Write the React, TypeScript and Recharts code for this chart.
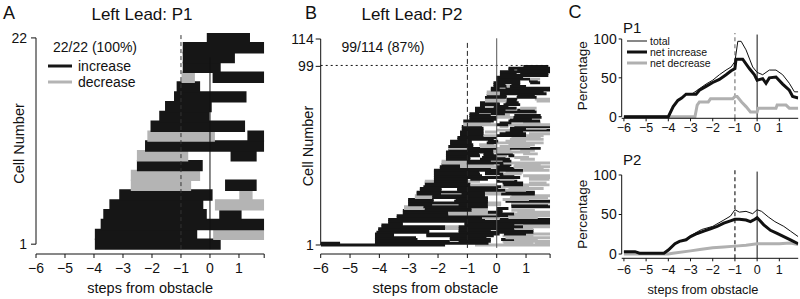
import React from "react";
import {
  ComposedChart,
  LineChart,
  Line,
  XAxis,
  YAxis,
  ReferenceArea,
  ReferenceLine,
} from "recharts";

const FONT = "'Liberation Sans', Arial, Helvetica, sans-serif";
const INK = "#111111";
const BAR_INK = "#161616";
const BAR_GREY = "#b4b4b4";

type Seg = [number, number, "b" | "g"];
type Pt = [number, number];

const STEP_TICKS = [-6, -5, -4, -3, -2, -1, 0, 1];

// Panel A: firing segments per cell (cell 1 first), b = increase, g = decrease
const cellsP1: Seg[][] = [
  [[-3.97, 0.37, "b"]],
  [[-3.97, -0.44, "b"], [0.11, 1.9, "g"]],
  [[-3.77, 1.9, "b"]],
  [[-3.68, -0.11, "b"], [0.32, 1.09, "b"]],
  [[-3.47, -0.23, "b"], [0.17, 1.9, "g"]],
  [[-3.13, 0.09, "b"], [1.01, 1.47, "g"]],
  [[-2.73, -0.65, "g"], [0.52, 1.61, "b"]],
  [[-2.73, -0.34, "g"]],
  [[-2.52, -0.25, "b"]],
  [[-2.52, -0.75, "g"], [0.71, 1.61, "b"]],
  [[-2.24, 1.9, "b"]],
  [[-2.16, 0.17, "g"], [1.29, 1.9, "b"]],
  [[-2.05, 1.21, "b"]],
  [[-1.75, -0.02, "b"]],
  [[-1.55, 0.06, "b"]],
  [[-1.24, 1.26, "b"]],
  [[-1.15, -0.34, "b"]],
  [[-0.98, -0.52, "g"], [0.09, 1.9, "b"]],
  [[-0.94, 0.37, "b"]],
  [[-0.94, 0.86, "b"]],
  [[-0.94, 1.9, "b"]],
  [[-0.11, 1.38, "b"]],
];

// Panel B: 99 responsive cells of 114
const cellsP2: Seg[][] = [
  [[-6, -1.76, "b"], [-0.74, 1.9, "g"]],
  [[-6, -5.34, "b"], [-4.15, -0.28, "b"], [0.23, 1.25, "g"], [1.3, 1.9, "g"]],
  [[-4.15, -1.6, "b"], [-1.3, -0.2, "b"], [0.2, 1.9, "g"]],
  [[-4.15, -2.7, "b"], [-1.6, -0.2, "b"], [0.15, 0.6, "b"], [0.6, 1.4, "g"]],
  [[-4.15, -2.75, "b"], [-1.6, -0.35, "b"], [0.3, 1.9, "g"]],
  [[-4.15, -3.5, "b"], [-2.4, -0.1, "b"], [0.2, 1.25, "g"]],
  [[-4.15, -3.5, "b"], [-2.4, 0.1, "b"], [0.25, 1.0, "b"], [1.0, 1.9, "g"]],
  [[-4.1, -2.3, "b"], [-1.3, 1.25, "b"]],
  [[-4.04, -2.3, "b"], [-1.3, -0.2, "b"], [0.0, 1.25, "b"]],
  [[-4.04, -1.75, "b"], [-1.75, -1.3, "g"], [-1.3, 0.6, "b"], [0.6, 1.25, "g"]],
  [[-3.93, -1.75, "b"], [-1.75, -1.3, "g"], [-1.3, 0.9, "b"], [0.9, 1.9, "g"]],
  [[-3.93, -3.2, "b"], [-1.1, 0.6, "b"], [0.9, 1.9, "g"]],
  [[-3.7, -3.2, "b"], [-1.1, 1.9, "b"]],
  [[-3.7, 1.9, "b"]],
  [[-3.7, -0.4, "b"], [0.1, 1.9, "b"]],
  [[-3.41, -0.5, "b"], [-0.5, 0.1, "g"], [0.4, 1.4, "g"]],
  [[-3.41, 0.4, "b"], [0.4, 1.9, "g"]],
  [[-3.2, -1.65, "b"], [-1.65, 0, "g"], [0, 0.6, "b"], [0.6, 1.9, "g"]],
  [[-3.2, -1.65, "b"], [-1.65, -0.3, "g"], [-0.3, 0.2, "b"], [0.7, 1.9, "g"]],
  [[-3.2, -0.85, "b"], [-0.85, -0.3, "g"], [0.0, 0.2, "b"], [0.5, 1.3, "g"]],
  [[-3.16, -2.45, "g"], [-2.45, -0.85, "b"], [-0.85, -0.3, "g"], [0.0, 0.4, "b"]],
  [[-3.16, -2.5, "g"], [-2.5, -0.3, "b"], [0.5, 1.9, "b"]],
  [[-3.02, -2.2, "b"], [-1.3, -0.3, "b"], [-0.3, 0.15, "g"], [0.5, 1.75, "b"]],
  [[-3.02, -0.3, "b"], [-0.3, 0.15, "g"], [0.5, 1.9, "g"]],
  [[-3.02, -2.15, "b"], [-1.45, -0.3, "b"], [0.3, 1.9, "b"]],
  [[-3.02, -2.15, "b"], [-1.4, -0.3, "b"], [0.2, 1.1, "g"]],
  [[-2.79, -2.2, "g"], [-2.2, -0.3, "b"], [0.45, 1.75, "g"]],
  [[-2.79, -2.2, "g"], [-2.2, -0.4, "b"], [0.5, 1.9, "g"]],
  [[-2.73, -1.9, "b"], [-1.2, -0.4, "b"], [-0.4, 0.15, "g"], [0.15, 1.3, "b"]],
  [[-2.73, -0.4, "b"], [-0.4, 0.15, "g"], [0.3, 1.3, "b"]],
  [[-2.62, -1.88, "b"], [-1.35, 0.3, "b"], [0.3, 1.0, "g"]],
  [[-2.62, -1.88, "b"], [-1.35, 0.05, "b"], [0.4, 1.6, "g"]],
  [[-2.5, 0.15, "b"], [0.15, 1.1, "g"]],
  [[-2.45, -0.9, "b"], [-0.9, 0, "g"], [0.23, 0.9, "b"], [0.9, 1.8, "g"]],
  [[-2.45, -0.9, "b"], [0.2, 0.9, "b"], [1.1, 1.7, "g"]],
  [[-2.45, -2.14, "g"], [-2.14, -1.0, "b"], [-1.0, -0.57, "g"], [0, 0.7, "b"]],
  [[-2.14, -1.0, "b"], [-0.9, -0.3, "b"], [0.1, 0.6, "g"], [1.1, 1.8, "g"]],
  [[-2.14, 0.8, "b"], [1.1, 1.9, "g"]],
  [[-2.14, -0.5, "b"], [0.1, 0.6, "b"], [0.9, 1.9, "g"]],
  [[-2.14, -0.57, "b"], [-0.4, 0.23, "b"], [0.23, 0.85, "g"]],
  [[-2.14, -0.6, "b"], [-0.4, 0.1, "b"], [0.3, 0.9, "g"]],
  [[-2.14, 0.9, "b"], [0.9, 1.8, "g"]],
  [[-1.94, -0.2, "b"], [0.0, 0.6, "b"], [0.9, 1.6, "g"]],
  [[-1.94, -1.25, "b"], [-1.25, 0, "g"], [0, 0.45, "b"], [0.57, 1.9, "g"]],
  [[-1.88, -1.25, "b"], [-1.25, -0.1, "g"], [0.1, 0.5, "b"], [0.6, 1.5, "g"]],
  [[-1.88, -1.02, "g"], [-1.02, 0.23, "b"], [0.23, 1.9, "g"]],
  [[-1.88, -1.02, "g"], [-1.02, -0.2, "b"], [0.2, 0.5, "b"]],
  [[-1.73, -0.9, "b"], [-0.57, 0.45, "b"], [0.8, 1.3, "g"]],
  [[-1.73, -0.9, "b"], [-0.5, 0.3, "b"], [0.6, 1.1, "g"]],
  [[-1.73, -0.57, "b"], [-0.45, 0, "b"], [0, 0.35, "g"], [0.4, 0.6, "b"]],
  [[-1.73, -0.6, "b"], [-0.45, -0.1, "b"], [0, 0.55, "b"], [0.9, 1.4, "g"]],
  [[-1.73, -0.11, "b"], [-0.11, 1.14, "g"]],
  [[-1.65, -0.11, "b"], [-0.11, 0.5, "g"], [0.8, 1.3, "g"]],
  [[-1.65, -1.0, "g"], [-1.0, 0, "b"], [0, 0.45, "g"], [0.45, 1.5, "b"]],
  [[-1.65, -0.8, "b"], [-0.57, 0, "g"], [0.1, 1.14, "g"]],
  [[-1.59, -0.8, "b"], [-0.6, -0.1, "g"], [0.4, 1.3, "g"]],
  [[-1.59, -0.85, "b"], [-0.34, 0, "b"], [0, 1.6, "g"]],
  [[-1.59, -0.85, "b"], [-0.3, 0.05, "b"], [0.3, 1.0, "g"]],
  [[-1.34, -0.1, "b"], [0.45, 1.6, "g"]],
  [[-1.34, 0, "b"], [0.5, 1.5, "g"]],
  [[-1.25, -0.45, "b"], [-0.45, 0, "g"], [0, 1.0, "b"], [1.0, 1.6, "g"]],
  [[-1.25, -0.45, "b"], [0.1, 1.0, "b"], [1.1, 1.9, "g"]],
  [[-1.25, -0.45, "b"], [-0.4, 0, "g"], [0.3, 0.9, "b"]],
  [[-1.19, -0.45, "b"], [0, 0.45, "g"], [0.45, 1.9, "b"]],
  [[-1.19, -0.45, "b"], [0.45, 1.0, "b"], [1.0, 1.7, "g"]],
  [[-1.19, -0.5, "b"], [0.1, 0.4, "g"], [0.6, 1.9, "b"]],
  [[-1.14, 0, "g"], [0, 0.4, "b"], [0.4, 1.9, "g"]],
  [[-1.14, -0.2, "g"], [0.1, 0.5, "b"], [0.9, 1.5, "g"]],
  [[-1.14, -0.1, "b"], [0.4, 1.48, "b"]],
  [[-0.93, 0, "b"], [0.45, 1.2, "b"]],
  [[-0.93, 0, "b"], [0, 0.57, "g"], [0.57, 1.53, "b"]],
  [[-0.93, -0.2, "b"], [0, 0.45, "g"], [0.6, 1.5, "b"]],
  [[-0.93, -0.6, "b"], [-0.2, 0.28, "b"]],
  [[-0.74, 1.36, "b"]],
  [[-0.74, 0.3, "b"], [0.7, 1.3, "b"]],
  [[-0.74, 0.68, "b"], [0.8, 1.36, "g"]],
  [[-0.57, -0.4, "b"], [-0.4, -0.1, "g"], [-0.1, 0.4, "b"]],
  [[-0.57, 0.11, "b"], [0.23, 0.8, "b"]],
  [[-0.57, 0.1, "b"], [0.3, 0.75, "b"]],
  [[-0.4, 0.34, "g"], [0.34, 0.68, "b"], [1.36, 1.9, "g"]],
  [[-0.4, 0.3, "g"], [0.34, 0.7, "b"], [1.3, 1.9, "g"]],
  [[-0.4, 0.34, "b"], [0.68, 1.36, "b"]],
  [[-0.34, 0.34, "b"], [0.7, 1.3, "b"]],
  [[-0.34, 0.11, "g"], [0.11, 1.7, "b"]],
  [[-0.34, 0.11, "g"], [0.11, 1.6, "b"]],
  [[-0.2, 1.9, "b"]],
  [[-0.2, 0.1, "b"], [0.3, 1.9, "b"]],
  [[-0.11, 0.34, "b"], [0.34, 0.45, "g"], [0.45, 1.0, "b"]],
  [[-0.11, 0.3, "b"], [0.5, 0.8, "b"]],
  [[-0.11, 0.8, "b"], [1.14, 1.48, "b"]],
  [[-0.02, 0.8, "b"], [1.1, 1.4, "b"]],
  [[-0.02, 1.14, "b"], [1.14, 1.48, "g"]],
  [[-0.02, 0.9, "b"]],
  [[0.11, 1.76, "b"]],
  [[0.11, 0.68, "b"], [0.8, 1.76, "b"]],
  [[0.11, 1.9, "b"]],
  [[0.4, 0.6, "b"], [0.7, 1.9, "b"]],
  [[0.4, 1.9, "b"]],
  [[0.91, 1.76, "b"]],
];

// Panel C: percentage of cells, [step, %]
const p1Total: Pt[] = [
  [-6, 0], [-4, 0], [-3.78, 13], [-3.57, 21], [-3.4, 24], [-3.2, 29], [-2.9, 30],
  [-2.75, 33], [-2.6, 36], [-2.3, 42], [-2.0, 47], [-1.7, 54], [-1.4, 60],
  [-1.17, 64], [-1.0, 71], [-0.87, 97], [-0.72, 97], [-0.5, 86], [-0.2, 64],
  [0, 57], [0.25, 54], [0.55, 60], [0.85, 60], [1.15, 54], [1.45, 43],
  [1.68, 32], [1.85, 32],
];
const p1Increase: Pt[] = [
  [-6, 0], [-4, 0], [-3.78, 13], [-3.57, 21], [-3.4, 24], [-3.2, 29], [-2.75, 29],
  [-2.6, 34], [-2.3, 39], [-2.0, 44], [-1.7, 48], [-1.4, 54], [-1.17, 59],
  [-1.0, 62], [-0.95, 74], [-0.65, 74], [-0.35, 62], [-0.12, 54], [0, 47],
  [0.25, 49], [0.4, 43], [0.55, 50], [0.85, 51], [1.15, 42], [1.45, 34],
  [1.6, 26], [1.85, 24],
];
const p1Decrease: Pt[] = [
  [-6, 0], [-2.8, 0], [-2.7, 15], [-2.6, 19], [-2.2, 19], [-2.1, 23], [-1.1, 23],
  [-1.0, 26], [-0.9, 26], [-0.7, 19], [-0.5, 13], [-0.3, 6], [0, 6], [0.05, 11],
  [0.85, 11], [0.9, 15], [1.3, 15], [1.45, 11], [1.85, 11],
];
const p2Total: Pt[] = [
  [-6, 3], [-5.5, 3], [-5.3, 1], [-4.2, 1], [-4, 5], [-3.7, 13], [-3.5, 16],
  [-3.2, 19], [-3, 23], [-2.7, 28], [-2.5, 31], [-2, 35], [-1.5, 43],
  [-1.2, 48], [-1, 56], [-0.8, 53], [-0.5, 54], [-0.2, 51], [0, 56],
  [0.2, 54], [0.5, 47], [0.8, 41], [1.2, 35], [1.5, 29], [1.85, 22],
];
const p2Increase: Pt[] = [
  [-6, 3], [-5.5, 3], [-5.3, 1], [-4.2, 1], [-4, 5], [-3.7, 13], [-3.5, 16],
  [-3.2, 18], [-3, 22], [-2.7, 26], [-2.4, 29], [-2.1, 32], [-1.8, 35],
  [-1.5, 39], [-1.2, 42], [-1, 44], [-0.8, 44], [-0.5, 43], [-0.3, 41],
  [-0.1, 44], [0, 46], [0.1, 43], [0.3, 37], [0.6, 30], [0.9, 26],
  [1.2, 22], [1.5, 18], [1.85, 13],
];
const p2Decrease: Pt[] = [
  [-6, 0], [-4, 0], [-3.8, 1], [-3, 4], [-2.5, 6], [-2, 8], [-1.5, 9],
  [-1, 10], [-0.5, 11], [0, 13], [0.5, 13], [1, 13], [1.5, 14], [1.85, 12],
];

const fmtStep = (v: number) =>
  Number.isInteger(v) ? (v < 0 ? "\u2212" + Math.abs(v) : String(v)) : "";

const toPts = (arr: Pt[]) => arr.map(([x, y]) => ({ x, y }));

function Raster({
  cells,
  xMax,
  yDomain,
  yTicks,
  width,
  margin,
  yAxisWidth,
  yTickMargin,
  rowPad,
  children,
}: {
  cells: Seg[][];
  xMax: number;
  yDomain: [number, number];
  yTicks: number[];
  width: number;
  margin: { top: number; right: number; bottom: number; left: number };
  yAxisWidth: number;
  yTickMargin: number;
  rowPad: number;
  children?: React.ReactNode;
}) {
  const tickStyle = { fill: INK, fontSize: 14, fontFamily: FONT };
  return (
    <ComposedChart width={width} height={299} margin={margin}>
      <XAxis
        type="number"
        dataKey="x"
        domain={[-6, xMax]}
        allowDataOverflow
        ticks={[...STEP_TICKS, xMax]}
        interval={0}
        tickFormatter={fmtStep}
        height={45}
        tickSize={4}
        tickMargin={5}
        axisLine={{ stroke: INK }}
        tickLine={{ stroke: INK }}
        tick={tickStyle}
        label={{
          value: "steps from obstacle",
          position: "insideBottom",
          offset: 6,
          fill: INK,
          fontSize: 14.5,
          fontFamily: FONT,
        }}
      />
      <YAxis
        type="number"
        domain={yDomain}
        allowDataOverflow
        ticks={yTicks}
        interval={0}
        width={yAxisWidth}
        axisLine={false}
        tickSize={5}
        tickMargin={yTickMargin}
        tickLine={{ stroke: INK }}
        tick={tickStyle}
        label={{
          value: "Cell Number",
          angle: -90,
          position: "center",
          fill: INK,
          fontSize: 14.5,
          fontFamily: FONT,
        }}
      />
      {cells.flatMap((segs, i) =>
        segs.map(([a, b, k], j) => (
          <ReferenceArea
            key={`${i}-${j}`}
            x1={a}
            x2={Math.min(b, xMax)}
            y1={i + 0.5 - rowPad}
            y2={i + 1.5 + rowPad}
            fill={k === "b" ? BAR_INK : BAR_GREY}
            fillOpacity={1}
            stroke="none"
            ifOverflow="hidden"
          />
        ))
      )}
      <ReferenceLine
        segment={[
          { x: -6, y: yTicks[0] },
          { x: -6, y: yTicks[yTicks.length - 1] },
        ]}
        stroke={INK}
        ifOverflow="visible"
      />
      {children}
    </ComposedChart>
  );
}

function Profile({
  total,
  inc,
  dec,
  height,
  top,
  yDomain,
  xAxisHeight,
  tickMargin,
  withTitle,
  dashColor,
}: {
  total: Pt[];
  inc: Pt[];
  dec: Pt[];
  height: number;
  top: number;
  yDomain: [number, number];
  xAxisHeight: number;
  tickMargin: number;
  withTitle: boolean;
  dashColor: string;
}) {
  const tickStyle = { fill: INK, fontSize: 14, fontFamily: FONT };
  return (
    <LineChart
      width={260}
      height={height}
      margin={{ top, right: 1.8, bottom: 0, left: 3.7 }}
    >
      <XAxis
        type="number"
        dataKey="x"
        domain={[-6.1, 1.85]}
        allowDataOverflow
        ticks={STEP_TICKS}
        interval={0}
        tickFormatter={fmtStep}
        height={xAxisHeight}
        tickSize={3}
        tickMargin={tickMargin}
        axisLine={{ stroke: INK }}
        tickLine={{ stroke: INK }}
        tick={{ fill: INK, fontSize: 12.5, fontFamily: FONT }}
        label={
          withTitle
            ? {
                value: "steps from obstacle",
                position: "insideBottom",
                offset: 5,
                dx: -7,
                fill: INK,
                fontSize: 12.8,
                fontFamily: FONT,
              }
            : undefined
        }
      />
      <YAxis
        type="number"
        dataKey="y"
        domain={yDomain}
        allowDataOverflow
        ticks={[0, 50, 100]}
        interval={0}
        width={78}
        axisLine={false}
        tickSize={3}
        tickMargin={2}
        tickLine={{ stroke: INK }}
        tick={tickStyle}
        label={{
          value: "Percentage",
          angle: -90,
          position: "center",
          fill: INK,
          fontSize: 13.5,
          fontFamily: FONT,
        }}
      />
      <ReferenceLine
        segment={[{ x: -6.1, y: 0 }, { x: -6.1, y: 100 }]}
        stroke={INK}
        ifOverflow="visible"
      />
      <ReferenceLine
        segment={[{ x: -1, y: yDomain[0] }, { x: -1, y: yDomain[1] }]}
        stroke={dashColor}
        strokeWidth={1.2}
        strokeDasharray="4 3"
      />
      <ReferenceLine
        segment={[{ x: 0, y: yDomain[0] }, { x: 0, y: yDomain[1] - 2 }]}
        stroke={INK}
      />
      <Line
        data={toPts(dec)}
        dataKey="y"
        stroke="#b0b0b0"
        strokeWidth={3}
        dot={false}
        isAnimationActive={false}
      />
      <Line
        data={toPts(total)}
        dataKey="y"
        stroke={INK}
        strokeWidth={1}
        dot={false}
        isAnimationActive={false}
      />
      <Line
        data={toPts(inc)}
        dataKey="y"
        stroke={INK}
        strokeWidth={3}
        dot={false}
        isAnimationActive={false}
      />
    </LineChart>
  );
}

export default function App() {
  const t = { fontFamily: FONT, fill: INK } as const;
  return (
    <div
      style={{
        position: "absolute",
        left: 0,
        top: 0,
        width: 800,
        height: 299,
        background: "#fff",
        overflow: "hidden",
      }}
    >
      <div style={{ position: "absolute", left: 0, top: 0 }}>
        <Raster
          cells={cellsP1}
          xMax={1.87}
          yDomain={[0, 22.5]}
          yTicks={[1, 22]}
          width={280}
          margin={{ top: 33, right: 15.8, bottom: 0, left: 1 }}
          yAxisWidth={35}
          yTickMargin={4}
          rowPad={0.08}
        >
          <ReferenceLine
            segment={[{ x: -1, y: 0.5 }, { x: -1, y: 22.5 }]}
            stroke="#333"
            strokeDasharray="4 3"
          />
          <ReferenceLine
            segment={[{ x: 0, y: 0.5 }, { x: 0, y: 20 }]}
            stroke={INK}
          />
        </Raster>
      </div>
      <div style={{ position: "absolute", left: 280, top: 0 }}>
        <Raster
          cells={cellsP2}
          xMax={1.82}
          yDomain={[-3.94, 114.5]}
          yTicks={[1, 99, 114]}
          width={275}
          margin={{ top: 38.1, right: 4.9, bottom: 0, left: 14.3 }}
          yAxisWidth={26.4}
          yTickMargin={2}
          rowPad={0.3}
        >
          <ReferenceLine
            y={99.5}
            stroke={INK}
            strokeDasharray="2 3"
          />
          <ReferenceLine
            segment={[{ x: -1, y: -0.6 }, { x: -1, y: 112.4 }]}
            stroke="#222"
            strokeDasharray="5 3"
          />
          <ReferenceLine
            segment={[{ x: 0, y: -0.6 }, { x: 0, y: 114.4 }]}
            stroke="#555"
          />
        </Raster>
      </div>
      <div style={{ position: "absolute", left: 540, top: 0 }}>
        <Profile
          total={p1Total}
          inc={p1Increase}
          dec={p1Decrease}
          height={150}
          top={33}
          yDomain={[-2.06, 107.7]}
          xAxisHeight={31.7}
          tickMargin={2}
          withTitle={false}
          dashColor="#7a7a7a"
        />
      </div>
      <div style={{ position: "absolute", left: 540, top: 145 }}>
        <Profile
          total={p2Total}
          inc={p2Increase}
          dec={p2Decrease}
          height={154}
          top={25}
          yDomain={[-5.4, 106.3]}
          xAxisHeight={40.7}
          tickMargin={3.5}
          withTitle
          dashColor="#222"
        />
      </div>
      <svg
        width={800}
        height={299}
        style={{ position: "absolute", left: 0, top: 0, pointerEvents: "none" }}
      >
        <text {...t} x={9} y={13} fontSize={18} textAnchor="middle" dominantBaseline="central">A</text>
        <text {...t} x={142} y={14} fontSize={17} textAnchor="middle" dominantBaseline="central">Left Lead: P1</text>
        <text {...t} x={311} y={13} fontSize={18} textAnchor="middle" dominantBaseline="central">B</text>
        <text {...t} x={412} y={14} fontSize={17} textAnchor="middle" dominantBaseline="central">Left Lead: P2</text>
        <text {...t} x={575} y={12} fontSize={18} textAnchor="middle" dominantBaseline="central">C</text>
        <text {...t} x={623} y={27} fontSize={15} dominantBaseline="central">P1</text>
        <text {...t} x={623} y={159} fontSize={15} dominantBaseline="central">P2</text>
        <text {...t} x={95} y={47} fontSize={14} textAnchor="middle" dominantBaseline="central">22/22 (100%)</text>
        <line x1={48} x2={72} y1={66} y2={66} stroke={BAR_INK} strokeWidth={3} />
        <text {...t} x={78} y={66} fontSize={14} dominantBaseline="central">increase</text>
        <line x1={48} x2={72} y1={82} y2={82} stroke={BAR_GREY} strokeWidth={3} />
        <text {...t} x={78} y={82} fontSize={14} dominantBaseline="central">decrease</text>
        <text {...t} x={383} y={47} fontSize={14} textAnchor="middle" dominantBaseline="central">99/114 (87%)</text>
        <line x1={627} x2={647} y1={41} y2={41} stroke={INK} strokeWidth={1} />
        <text {...t} x={650} y={41} fontSize={10.5} dominantBaseline="central">total</text>
        <line x1={627} x2={647} y1={52} y2={52} stroke={INK} strokeWidth={3} />
        <text {...t} x={650} y={52} fontSize={10.5} dominantBaseline="central">net increase</text>
        <line x1={627} x2={647} y1={63} y2={63} stroke="#b0b0b0" strokeWidth={3} />
        <text {...t} x={650} y={63} fontSize={10.5} dominantBaseline="central">net decrease</text>
      </svg>
    </div>
  );
}
